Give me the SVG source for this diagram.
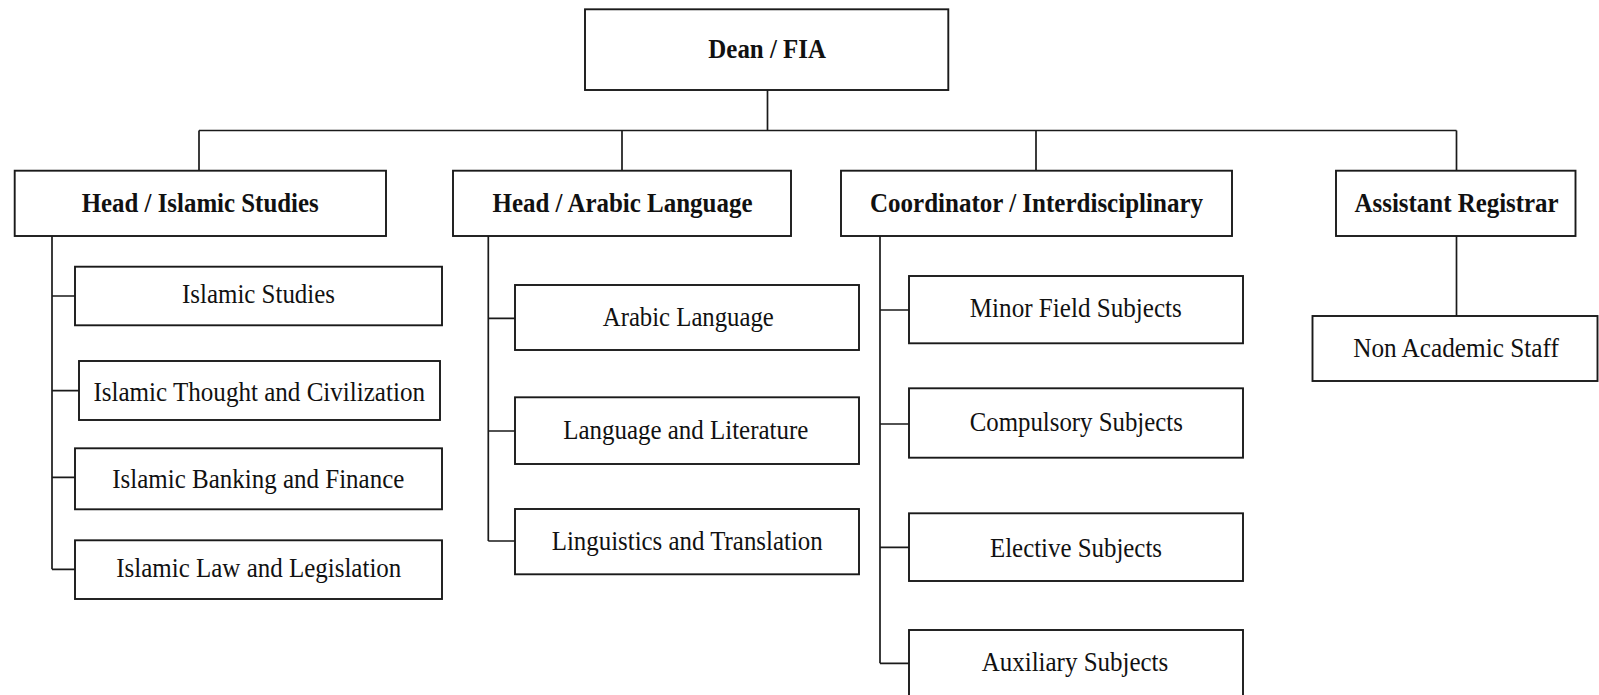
<svg xmlns="http://www.w3.org/2000/svg" width="1599" height="695" viewBox="0 0 1599 695">
<style>
  .box { fill: #ffffff; stroke: #1a1a1a; stroke-width: 1.9; }
  .ln { fill: none; stroke: #1a1a1a; stroke-width: 1.7; }
  text { font-family: "Liberation Serif", "Times New Roman", serif; font-size: 28px; fill: #111111; text-anchor: middle; }
  .b { font-weight: bold; }
</style>
<rect x="0" y="0" width="1599" height="695" fill="#ffffff"/>
<g id="connectors">
  <path class="ln" d="M767.5 90 V130.5 M199 130.5 H1456.5 M199 130.5 V170.7 M622 130.5 V170.7 M1036 130.5 V170.7 M1456.5 130.5 V170.7"/>
  <path class="ln" d="M1456.5 236 V316"/>
  <path class="ln" d="M52 236 V569.3 M52 296 H75 M52 390.7 H79 M52 477.3 H75 M52 569.3 H75"/>
  <path class="ln" d="M488.3 236 V541 M488.3 318.3 H515 M488.3 431 H515 M488.3 541 H515"/>
  <path class="ln" d="M880 236 V663.3 M880 310 H909 M880 424 H909 M880 547.3 H909 M880 663.3 H909"/>
</g>
<g id="dean"><rect class="box" x="585" y="9.3" width="363.3" height="80.7"/><text class="b" x="767.2" y="57.5" textLength="117.7" lengthAdjust="spacingAndGlyphs">Dean / FIA</text></g>
<g id="head-islamic"><rect class="box" x="14.7" y="170.7" width="371.3" height="65.3"/><text class="b" x="200.2" y="211.7" textLength="237" lengthAdjust="spacingAndGlyphs">Head / Islamic Studies</text></g>
<g id="head-arabic"><rect class="box" x="453" y="170.7" width="338" height="65.3"/><text class="b" x="622.5" y="211.7" textLength="260" lengthAdjust="spacingAndGlyphs">Head / Arabic Language</text></g>
<g id="coordinator"><rect class="box" x="841" y="170.7" width="391" height="65.3"/><text class="b" x="1036.5" y="211.7" textLength="333" lengthAdjust="spacingAndGlyphs">Coordinator / Interdisciplinary</text></g>
<g id="asst-registrar"><rect class="box" x="1336" y="170.7" width="239.5" height="65.3"/><text class="b" x="1456.6" y="211.7" textLength="204" lengthAdjust="spacingAndGlyphs">Assistant Registrar</text></g>
<g id="islamic-studies"><rect class="box" x="75" y="266.7" width="367" height="58.6"/><text x="258.5" y="303.3" textLength="153" lengthAdjust="spacingAndGlyphs">Islamic Studies</text></g>
<g id="islamic-thought"><rect class="box" x="79" y="361" width="361" height="59"/><text x="259.2" y="400.7" textLength="331.6" lengthAdjust="spacingAndGlyphs">Islamic Thought and Civilization</text></g>
<g id="islamic-banking"><rect class="box" x="75" y="448.3" width="367" height="61"/><text x="258.3" y="487.7" textLength="292" lengthAdjust="spacingAndGlyphs">Islamic Banking and Finance</text></g>
<g id="islamic-law"><rect class="box" x="75" y="540.3" width="367" height="58.7"/><text x="258.8" y="577.3" textLength="285" lengthAdjust="spacingAndGlyphs">Islamic Law and Legislation</text></g>
<g id="arabic-language"><rect class="box" x="515" y="285" width="344" height="65"/><text x="688.3" y="326" textLength="171" lengthAdjust="spacingAndGlyphs">Arabic Language</text></g>
<g id="language-literature"><rect class="box" x="515" y="397.3" width="344" height="66.7"/><text x="685.8" y="439.3" textLength="245" lengthAdjust="spacingAndGlyphs">Language and Literature</text></g>
<g id="linguistics"><rect class="box" x="515" y="509" width="344" height="65.3"/><text x="687.2" y="550" textLength="271" lengthAdjust="spacingAndGlyphs">Linguistics and Translation</text></g>
<g id="minor-field"><rect class="box" x="909" y="276" width="334" height="67.3"/><text x="1075.8" y="316.7" textLength="212" lengthAdjust="spacingAndGlyphs">Minor Field Subjects</text></g>
<g id="compulsory"><rect class="box" x="909" y="388.3" width="334" height="69.4"/><text x="1076.3" y="430.7" textLength="213" lengthAdjust="spacingAndGlyphs">Compulsory Subjects</text></g>
<g id="elective"><rect class="box" x="909" y="513.3" width="334" height="67.7"/><text x="1076" y="556.7" textLength="172" lengthAdjust="spacingAndGlyphs">Elective Subjects</text></g>
<g id="auxiliary"><rect class="box" x="909" y="630" width="334" height="75"/><text x="1075" y="670.7" textLength="186.6" lengthAdjust="spacingAndGlyphs">Auxiliary Subjects</text></g>
<g id="non-academic"><rect class="box" x="1312.5" y="316" width="285" height="65"/><text x="1456" y="357.3" textLength="205.7" lengthAdjust="spacingAndGlyphs">Non Academic Staff</text></g>
</svg>
